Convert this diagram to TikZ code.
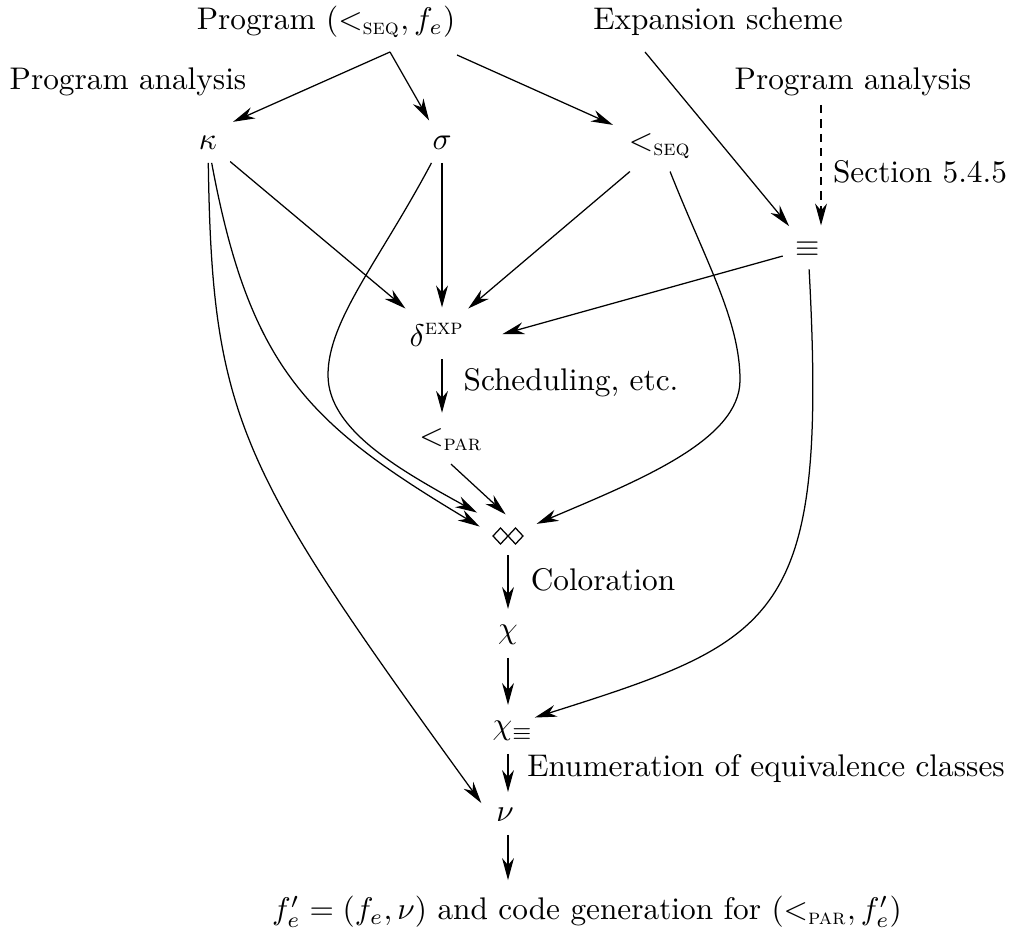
\documentclass[tikz,border=0pt]{standalone}
\usepackage{amsmath}
\usetikzlibrary{arrows.meta}
\begin{document}
\begin{tikzpicture}[x=0.3195pt,y=-0.3195pt,
  m/.style={inner sep=4pt},
  lab/.style={inner sep=0pt},
  arr/.style={-{Stealth[length=7pt,width=3.8pt,inset=2.2pt]}, line width=0.4pt, shorten >=1pt},
  dsh/.style={dash pattern=on 2.6pt off 2pt}]
\useasboundingbox (0,0) rectangle (1010,940);
% nodes
\node[lab] (prog) at (326,22) {Program $(<_{\text{\textsc{seq}}}, f_e)$};
\node[lab] (exps) at (718,22) {Expansion scheme};
\node[lab] (pal) at (128,82) {Program analysis};
\node[lab] (par) at (853,82) {Program analysis};
\node[m] (kappa) at (208,143) {$\kappa$};
\node[m] (sigma) at (442,143) {$\sigma$};
\node[m] (lseq) at (660,146) {$<_{\text{\textsc{seq}}}$};
\node[m] (equiv) at (808,249) {$\equiv$};
\node[m] (delta) at (437,335) {$\delta^{\text{\textsc{exp}}}$};
\node[m] (lpar) at (451,440) {$<_{\text{\textsc{par}}}$};
\node[minimum width=16pt,minimum height=12pt,inner sep=0pt] (diam) at (508,536) {};
\draw[line width=0.4pt] (493,536)--(500.5,528)--(508,536)--(500.5,544)--cycle
  (508,536)--(515.5,528)--(523,536)--(515.5,544)--cycle;
\node[m] (chi) at (508,635) {$\chi$};
\node[m] (chieq) at (513,731) {$\chi_{\equiv}$};
\node[m] (nu) at (505,815) {$\nu$};
\node[m] (final) at (587,912) {$f'_e = (f_e,\nu)$ and code generation for $(<_{\text{\textsc{par}}}, f'_e)$};
% labels
\node[lab] (sec) at (920,172) {Section 5.4.5};
\node[lab] (sched) at (571,383) {Scheduling, etc.};
\node[lab] (color) at (603,580) {Coloration};
\node[lab] (enum) at (766,768) {Enumeration of equivalence classes};
% free ends
\coordinate (p0) at (390,52);
\coordinate (p1) at (457,55);
\coordinate (e0) at (645,52);
\coordinate (a0) at (821,105);
% arrows
\draw[arr] (p0) -- (kappa.north east);
\draw[arr] (p0) -- (sigma);
\draw[arr] (p1) -- (lseq);
\draw[arr] (e0) -- (equiv);
\draw[arr,dsh] (a0) -- (a0 |- equiv.north);
\draw[arr] (kappa) -- (delta);
\draw[arr] (sigma) -- (sigma |- delta.north);
\draw[arr] (lseq) -- (delta);
\draw[arr] (equiv) -- ([xshift=7pt]delta.east);
\draw[arr] (sigma |- delta.south) -- (sigma |- lpar.north);
\draw[arr] (lpar.south) -- (diam.north);
\draw[arr] (kappa) .. controls (250,370) and (310,425) .. ([yshift=2.5pt]diam.west);
\draw[arr] (sigma) .. controls (380,260) and (328,320) .. (328,375)
  .. controls (328,430) and (400,470) .. ([shift={(-0.8pt,7pt)}]diam.west);
\draw[arr] (lseq) .. controls (705,260) and (740,320) .. (740,380)
  .. controls (740,440) and (640,480) .. (diam);
\draw[arr] (kappa) .. controls (212,420) and (240,470) .. ([yshift=3pt]nu.west);
\draw[arr] (equiv) .. controls (828,620) and (780,640) .. ([shift={(-4.7pt,4pt)}]chieq.east);
\draw[arr] (diam) -- (chi);
\draw[arr] (chi) -- (chi |- chieq.north);
\draw[arr] (chi |- chieq.south) -- (chi |- nu.north);
\draw[arr] (chi |- nu.south) -- (chi |- final.north);
\end{tikzpicture}
\end{document}
